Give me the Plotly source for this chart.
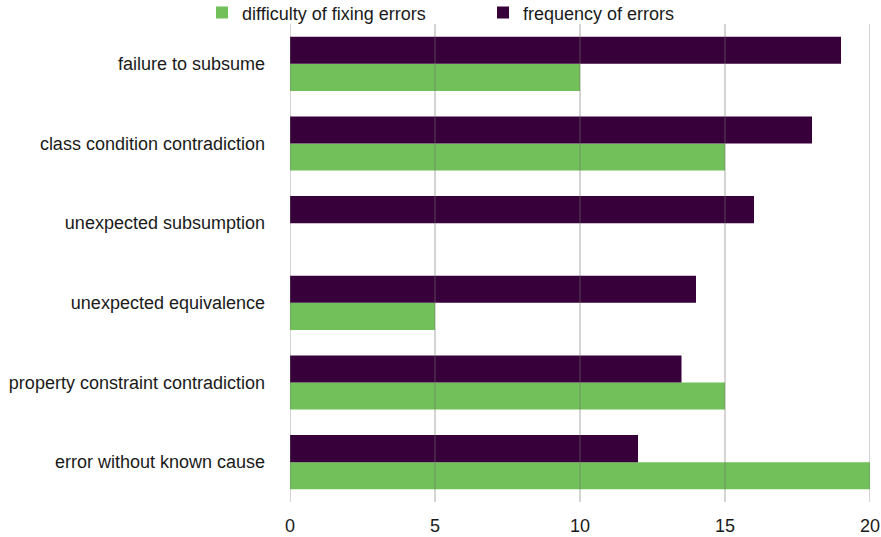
import plotly.graph_objects as go

# Categories listed bottom to top
categories = [
    "error without known cause",
    "property constraint contradiction",
    "unexpected equivalence",
    "unexpected subsumption",
    "class condition contradiction",
    "failure to subsume",
]
difficulty = [20, 15, 5, 0, 15, 10]
frequency = [12, 13.5, 14, 16, 18, 19]
x_ticks = [0, 5, 10, 15, 20]

green = "#71c05a"
purple = "#38003a"

fig = go.Figure()
fig.add_trace(go.Bar(y=categories, x=difficulty, orientation="h",
                     name="difficulty of fixing errors", marker_color=green,
                     marker_line_width=0))
fig.add_trace(go.Bar(y=categories, x=frequency, orientation="h",
                     name="frequency of errors", marker_color=purple,
                     marker_line_width=0))

# vertical grid lines drawn over the bars
for v in x_ticks:
    fig.add_shape(type="line", xref="x", yref="paper", x0=v, x1=v, y0=0, y1=1,
                  line=dict(color="rgba(110,110,110,0.4)", width=1.5), layer="above")

fig.update_layout(
    width=881, height=537,
    margin=dict(l=290, r=11, t=24, b=35, autoexpand=False),
    paper_bgcolor="white", plot_bgcolor="white",
    barmode="group", bargap=0.32, bargroupgap=0,
    font=dict(family="Liberation Sans, Arial, sans-serif", size=18, color="#1a1a1a"),
    showlegend=True,
    legend=dict(orientation="h", xref="container", yref="container",
                x=0.2293, y=0.976, xanchor="left", yanchor="middle",
                font=dict(size=18), entrywidth=236, itemwidth=30,
                bgcolor="rgba(0,0,0,0)"),
    xaxis=dict(range=[0, 20], tickvals=x_ticks, showgrid=False, zeroline=False,
               showline=False, ticks="", fixedrange=True, ticklabelstandoff=11,
               automargin=False),
    yaxis=dict(type="category", categoryarray=categories, showgrid=False,
               showline=False, ticks="", ticklabelstandoff=24, fixedrange=True,
               automargin=False),
)

fig.write_html("out.html")
